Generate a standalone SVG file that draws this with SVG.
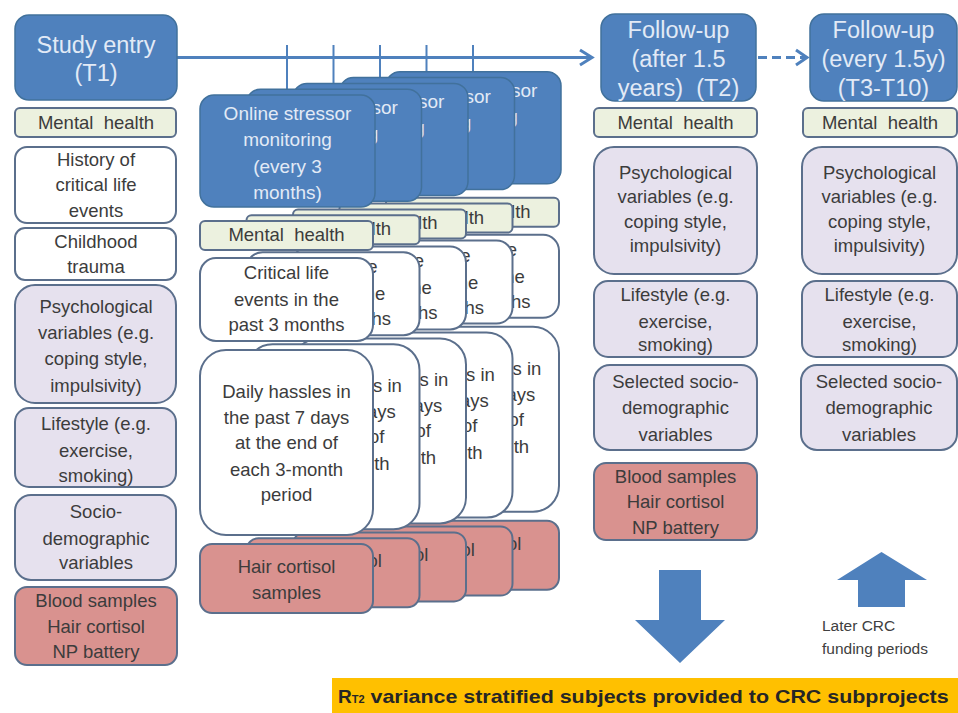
<svg xmlns="http://www.w3.org/2000/svg" width="958" height="713" viewBox="0 0 958 713">
<style>
text{font-family:"Liberation Sans",Arial,sans-serif;text-anchor:middle}
.b{font-size:18.5px;fill:#3c3c3c}
.f{font-size:18.5px;fill:#3c3c3c;text-anchor:end}
.h{font-size:23.5px;fill:#e2eaf6;white-space:pre}
.sh{font-size:19px;fill:#e2eaf6}
.sf{font-size:19px;fill:#e2eaf6;text-anchor:end}
.mh{font-size:18.5px;fill:#3c3c3c;white-space:pre}
.hdr{fill:#4f81bd;stroke:#41719c;stroke-width:1.5}
.mhb{fill:#ecf1df;stroke:#5b6f8c;stroke-width:2}
.wb{fill:#ffffff;stroke:#5b6f8c;stroke-width:2}
.lb{fill:#e6e1ee;stroke:#5b6f8c;stroke-width:2}
.rb{fill:#d9928f;stroke:#5b6f8c;stroke-width:2}
.ln{stroke:#4f81bd;stroke-width:3;fill:none}
.tk{stroke:#4f81bd;stroke-width:2;fill:none}
.ar{fill:#4f81bd}
</style>
<rect width="958" height="713" fill="#ffffff"/>

<g id="connectors">
  <line class="ln" x1="177" y1="57.5" x2="592" y2="57.5"/>
  <polyline class="ln" points="580,50 592,57.5 580,65"/>
  <line class="ln" x1="758" y1="57.5" x2="805" y2="57.5" stroke-dasharray="9,5"/>
  <polyline class="ln" points="796,50 807,57.5 796,65"/>
  <line class="tk" x1="287" y1="45" x2="287" y2="95"/>
  <line class="tk" x1="333.5" y1="45" x2="333.5" y2="89.2"/>
  <line class="tk" x1="380" y1="45" x2="380" y2="83.4"/>
  <line class="tk" x1="426.5" y1="45" x2="426.5" y2="77.6"/>
  <line class="tk" x1="473" y1="45" x2="473" y2="71.8"/>
  <polygon id="arrow-down" class="ar" points="659,570 701,570 701,620 725,620 680,663 635,620 659,620"/>
  <polygon id="arrow-up" class="ar" points="881.5,552 927,580 905,580 905,607 858,607 858,580 837,580"/>
</g>

<!-- Left column: T1 -->
<g id="t1-header"><rect class="hdr" x="15" y="15" width="162" height="85" rx="14"/>
<text class="h" x="96" y="53">Study entry</text><text class="h" x="96" y="81">(T1)</text></g>
<g id="t1-mental"><rect class="mhb" x="15" y="108" width="161" height="29" rx="5"/>
<text class="mh" x="96" y="129">Mental  health</text></g>
<g id="t1-history"><rect class="wb" x="15" y="147" width="161" height="76" rx="12"/>
<text class="b" x="96" y="166">History of</text><text class="b" x="96" y="191">critical life</text><text class="b" x="96" y="217">events</text></g>
<g id="t1-childhood"><rect class="wb" x="15" y="228" width="161" height="52" rx="10"/>
<text class="b" x="96" y="248">Childhood</text><text class="b" x="96" y="273">trauma</text></g>
<g id="t1-psych"><rect class="lb" x="15" y="285" width="161" height="118" rx="20"/>
<text class="b" x="96" y="313">Psychological</text><text class="b" x="96" y="339">variables (e.g.</text><text class="b" x="96" y="365">coping style,</text><text class="b" x="96" y="392">impulsivity)</text></g>
<g id="t1-lifestyle"><rect class="lb" x="15" y="408" width="161" height="79" rx="14"/>
<text class="b" x="96" y="430">Lifestyle (e.g.</text><text class="b" x="96" y="457">exercise,</text><text class="b" x="96" y="482">smoking)</text></g>
<g id="t1-socio"><rect class="lb" x="15" y="495" width="161" height="85" rx="16"/>
<text class="b" x="96" y="518">Socio-</text><text class="b" x="96" y="545">demographic</text><text class="b" x="96" y="569">variables</text></g>
<g id="t1-blood"><rect class="rb" x="15" y="587" width="162" height="78" rx="12"/>
<text class="b" x="96" y="607">Blood samples</text><text class="b" x="96" y="633">Hair cortisol</text><text class="b" x="96" y="658">NP battery</text></g>

<!-- Stacked online monitoring cards, back to front (back cards show only their visible text fragments) -->
<g id="monitoring-5" transform="translate(186,-23.2)">
<rect class="hdr" x="200" y="95" width="175" height="112" rx="14"/>
<text class="sf" x="351.4" y="120">sor</text><text class="sf" x="331.8" y="146">g</text>
<rect class="mhb" x="200" y="221" width="173" height="29" rx="5"/><text class="f" x="344.6" y="241">lth</text>
<rect class="wb" x="200" y="258" width="173" height="83" rx="16"/>
<text class="f" x="331" y="279">e</text><text class="f" x="338.9" y="306">he</text><text class="f" x="344.6" y="331">hs</text>
<rect class="wb" x="200" y="350" width="173" height="185" rx="26"/>
<text class="f" x="355.4" y="398">s in</text><text class="f" x="349.2" y="424">ays</text><text class="f" x="337.9" y="449">of</text><text class="f" x="343.1" y="476">th</text>
<rect class="rb" x="200" y="544" width="173" height="69" rx="12"/>
<text class="f" x="335.3" y="573">ol</text>
</g>
<g id="monitoring-4" transform="translate(139.5,-17.4)">
<rect class="hdr" x="200" y="95" width="175" height="112" rx="14"/>
<text class="sf" x="351.4" y="120">sor</text><text class="sf" x="331.8" y="146">g</text>
<rect class="mhb" x="200" y="221" width="173" height="29" rx="5"/><text class="f" x="344.6" y="241">lth</text>
<rect class="wb" x="200" y="258" width="173" height="83" rx="16"/>
<text class="f" x="331" y="279">e</text><text class="f" x="338.9" y="306">he</text><text class="f" x="344.6" y="331">hs</text>
<rect class="wb" x="200" y="350" width="173" height="185" rx="26"/>
<text class="f" x="355.4" y="398">s in</text><text class="f" x="349.2" y="424">ays</text><text class="f" x="337.9" y="449">of</text><text class="f" x="343.1" y="476">th</text>
<rect class="rb" x="200" y="544" width="173" height="69" rx="12"/>
<text class="f" x="335.3" y="573">ol</text>
</g>
<g id="monitoring-3" transform="translate(93,-11.6)">
<rect class="hdr" x="200" y="95" width="175" height="112" rx="14"/>
<text class="sf" x="351.4" y="120">sor</text><text class="sf" x="331.8" y="146">g</text>
<rect class="mhb" x="200" y="221" width="173" height="29" rx="5"/><text class="f" x="344.6" y="241">lth</text>
<rect class="wb" x="200" y="258" width="173" height="83" rx="16"/>
<text class="f" x="331" y="279">e</text><text class="f" x="338.9" y="306">he</text><text class="f" x="344.6" y="331">hs</text>
<rect class="wb" x="200" y="350" width="173" height="185" rx="26"/>
<text class="f" x="355.4" y="398">s in</text><text class="f" x="349.2" y="424">ays</text><text class="f" x="337.9" y="449">of</text><text class="f" x="343.1" y="476">th</text>
<rect class="rb" x="200" y="544" width="173" height="69" rx="12"/>
<text class="f" x="335.3" y="573">ol</text>
</g>
<g id="monitoring-2" transform="translate(46.5,-5.8)">
<rect class="hdr" x="200" y="95" width="175" height="112" rx="14"/>
<text class="sf" x="351.4" y="120">sor</text><text class="sf" x="331.8" y="146">g</text>
<rect class="mhb" x="200" y="221" width="173" height="29" rx="5"/><text class="f" x="344.6" y="241">lth</text>
<rect class="wb" x="200" y="258" width="173" height="83" rx="16"/>
<text class="f" x="331" y="279">e</text><text class="f" x="338.9" y="306">he</text><text class="f" x="344.6" y="331">hs</text>
<rect class="wb" x="200" y="350" width="173" height="185" rx="26"/>
<text class="f" x="355.4" y="398">s in</text><text class="f" x="349.2" y="424">ays</text><text class="f" x="337.9" y="449">of</text><text class="f" x="343.1" y="476">th</text>
<rect class="rb" x="200" y="544" width="173" height="69" rx="12"/>
<text class="f" x="335.3" y="573">ol</text>
</g>
<g id="monitoring-1">
<rect class="hdr" x="200" y="95" width="175" height="112" rx="14"/>
<text class="sh" x="287.5" y="120">Online stressor</text><text class="sh" x="287.5" y="146">monitoring</text><text class="sh" x="287.5" y="173">(every 3</text><text class="sh" x="287.5" y="199">months)</text>
<rect class="mhb" x="200" y="221" width="173" height="29" rx="5"/><text class="mh" x="286.5" y="241">Mental  health</text>
<rect class="wb" x="200" y="258" width="173" height="83" rx="16"/>
<text class="b" x="286.5" y="279">Critical life</text><text class="b" x="286.5" y="306">events in the</text><text class="b" x="286.5" y="331">past 3 months</text>
<rect class="wb" x="200" y="350" width="173" height="185" rx="26"/>
<text class="b" x="286.5" y="398">Daily hassles in</text><text class="b" x="286.5" y="424">the past 7 days</text><text class="b" x="286.5" y="449">at the end of</text><text class="b" x="286.5" y="476">each 3-month</text><text class="b" x="286.5" y="501">period</text>
<rect class="rb" x="200" y="544" width="173" height="69" rx="12"/>
<text class="b" x="286.5" y="573">Hair cortisol</text><text class="b" x="286.5" y="599">samples</text>
</g>

<!-- T2 column -->
<g id="t2-header"><rect class="hdr" x="601" y="14" width="155" height="87" rx="14"/>
<text class="h" x="678.5" y="38">Follow-up</text><text class="h" x="678.5" y="67">(after 1.5</text><text class="h" x="678.5" y="96">years)  (T2)</text></g>
<g id="t2-mental"><rect class="mhb" x="594" y="108" width="163" height="29" rx="5"/>
<text class="mh" x="675.5" y="129">Mental  health</text></g>
<g id="t2-psych"><rect class="lb" x="594" y="147" width="163" height="127" rx="20"/>
<text class="b" x="675.5" y="179">Psychological</text><text class="b" x="675.5" y="203">variables (e.g.</text><text class="b" x="675.5" y="228">coping style,</text><text class="b" x="675.5" y="252">impulsivity)</text></g>
<g id="t2-lifestyle"><rect class="lb" x="594" y="281" width="163" height="76" rx="14"/>
<text class="b" x="675.5" y="301">Lifestyle (e.g.</text><text class="b" x="675.5" y="328">exercise,</text><text class="b" x="675.5" y="351">smoking)</text></g>
<g id="t2-socio"><rect class="lb" x="594" y="365" width="163" height="85" rx="16"/>
<text class="b" x="675.5" y="388">Selected socio-</text><text class="b" x="675.5" y="414">demographic</text><text class="b" x="675.5" y="441">variables</text></g>
<g id="t2-blood"><rect class="rb" x="594" y="463" width="163" height="77" rx="12"/>
<text class="b" x="675.5" y="483">Blood samples</text><text class="b" x="675.5" y="508">Hair cortisol</text><text class="b" x="675.5" y="534">NP battery</text></g>

<!-- T3 column -->
<g id="t3-header"><rect class="hdr" x="810" y="14" width="147" height="87" rx="14"/>
<text class="h" x="883.5" y="38">Follow-up</text><text class="h" x="883.5" y="67">(every 1.5y)</text><text class="h" x="883.5" y="96">(T3-T10)</text></g>
<g id="t3-mental"><rect class="mhb" x="803" y="108" width="154" height="29" rx="5"/>
<text class="mh" x="880" y="129">Mental  health</text></g>
<g id="t3-psych"><rect class="lb" x="802" y="147" width="155" height="127" rx="20"/>
<text class="b" x="879.5" y="179">Psychological</text><text class="b" x="879.5" y="203">variables (e.g.</text><text class="b" x="879.5" y="228">coping style,</text><text class="b" x="879.5" y="252">impulsivity)</text></g>
<g id="t3-lifestyle"><rect class="lb" x="802" y="281" width="155" height="76" rx="14"/>
<text class="b" x="879.5" y="301">Lifestyle (e.g.</text><text class="b" x="879.5" y="328">exercise,</text><text class="b" x="879.5" y="351">smoking)</text></g>
<g id="t3-socio"><rect class="lb" x="801" y="365" width="156" height="85" rx="16"/>
<text class="b" x="879" y="388">Selected socio-</text><text class="b" x="879" y="414">demographic</text><text class="b" x="879" y="441">variables</text></g>

<g id="later-label">
<text style="font-size:15.5px;fill:#404040;text-anchor:start" x="822" y="631">Later CRC</text>
<text style="font-size:15.5px;fill:#404040;text-anchor:start" x="822" y="654">funding periods</text>
</g>

<g id="banner"><rect x="332" y="678" width="626" height="35" fill="#ffc000"/>
<text style="font-size:19px;font-weight:bold;fill:#262626;text-anchor:start" x="338" y="703">R<tspan style="font-size:11px">T2</tspan><tspan textLength="584" lengthAdjust="spacingAndGlyphs"> variance stratified subjects provided to CRC subprojects</tspan></text></g>
</svg>
